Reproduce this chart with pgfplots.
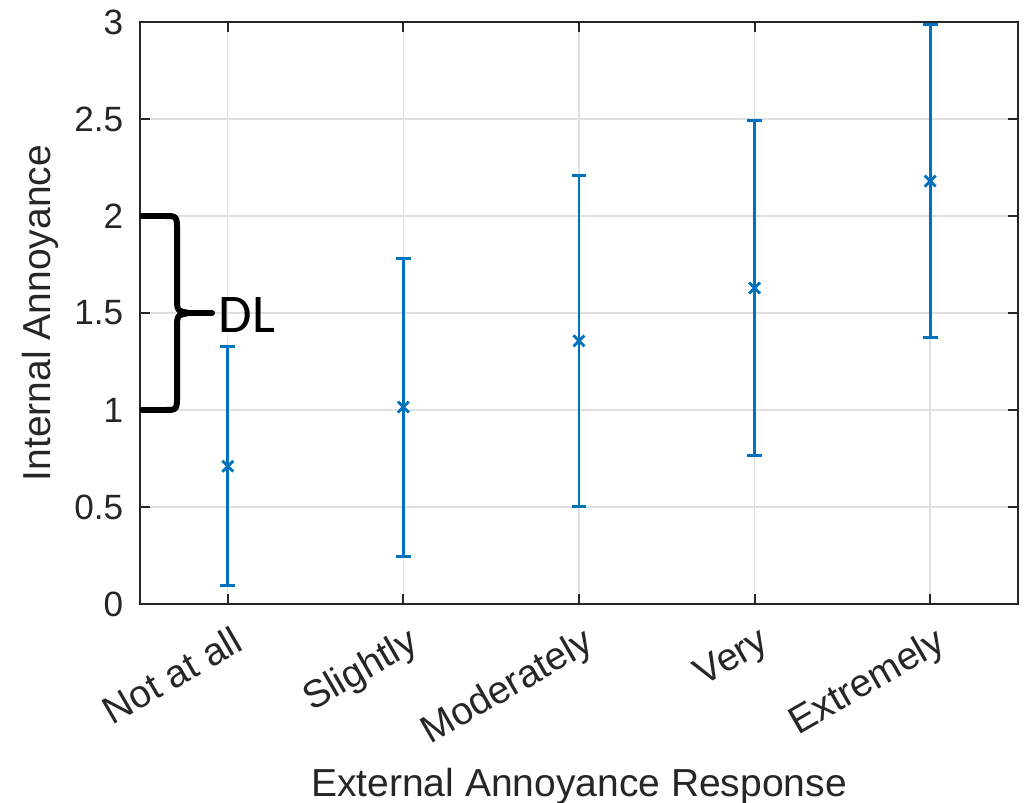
\documentclass[border=0pt]{standalone}
\usepackage{fontspec}
\setmainfont{Liberation Sans}
\newfontfamily\dlfont{Carlito}
\usepackage{pgfplots}
\pgfplotsset{compat=1.18}
\definecolor{mblue}{rgb}{0,0.447,0.741}
\definecolor{axgray}{rgb}{0.15,0.15,0.15}

\begin{document}
\begin{tikzpicture}
\path[use as bounding box] (-1.40cm,-1.99cm) rectangle (8.85cm,6.04cm);
\begin{axis}[
  at={(0,0)}, anchor=south west,
  width=8.78cm, height=5.82cm, scale only axis,
  xmin=0.5, xmax=5.5, ymin=0, ymax=3,
  xtick={1,2,3,4,5},
  xticklabels={Not at all,Slightly,Moderately,Very,Extremely},
  ytick={0,0.5,1,1.5,2,2.5,3},
  /pgf/number format/assume math mode=true,
  tick align=inside, major tick length=0.1cm,
  axis line style={axgray, line width=0.55pt},
  tick style={axgray, line width=0.55pt},
  grid=major,
  major grid style={black!12, line width=0.4pt},
  ticklabel style={font=\fontsize{10}{12}\selectfont, text=axgray},
  yticklabel style={inner sep=0pt, xshift=-0.16cm},
  xticklabel style={font=\fontsize{11}{13}\selectfont, inner sep=0pt,
    xshift=0.03cm, yshift=-0.20cm, rotate=30, anchor=north east},
  label style={font=\fontsize{11.1}{13}\selectfont, text=axgray},
  xlabel={External Annoyance Response},
  ylabel={Internal Annoyance},
  xlabel style={at={(axis description cs:0.5,-0.3316)}, anchor=base},
  ylabel style={at={(axis description cs:-0.1014,0.5)}, anchor=base},
]
\addplot[mblue, only marks, mark=x, mark size=2.2pt, line width=0.8pt,
  error bars/.cd, y dir=both, y explicit,
  error bar style={line width=0.85pt, mblue},
  error mark options={rotate=90, mark size=2.1pt, line width=0.85pt, mblue}]
coordinates {
  (1,0.71) +- (0,0.616)
  (2,1.015) +- (0,0.768)
  (3,1.356) +- (0,0.853)
  (4,1.629) +- (0,0.863)
  (5,2.18) +- (0,0.807)
};
% brace annotation
\draw[black, line width=1.7pt, line cap=round, line join=round]
  (axis cs:0.511,2.0) -- (axis cs:0.64,2.0)
  .. controls (axis cs:0.711,2.0) .. (axis cs:0.711,1.92)
  -- (axis cs:0.711,1.58)
  .. controls (axis cs:0.711,1.51) .. (axis cs:0.78,1.5)
  -- (axis cs:0.91,1.5);
\draw[black, line width=1.7pt, line cap=round, line join=round]
  (axis cs:0.78,1.5)
  .. controls (axis cs:0.711,1.49) .. (axis cs:0.711,1.42)
  -- (axis cs:0.711,1.08)
  .. controls (axis cs:0.711,1.0) .. (axis cs:0.64,1.0)
  -- (axis cs:0.511,1.0);
\node[anchor=base west, inner sep=0pt, font=\dlfont\fontsize{15.5}{18}\selectfont]
  at (axis cs:0.944,1.402) {DL};
\end{axis}
\end{tikzpicture}
\end{document}
